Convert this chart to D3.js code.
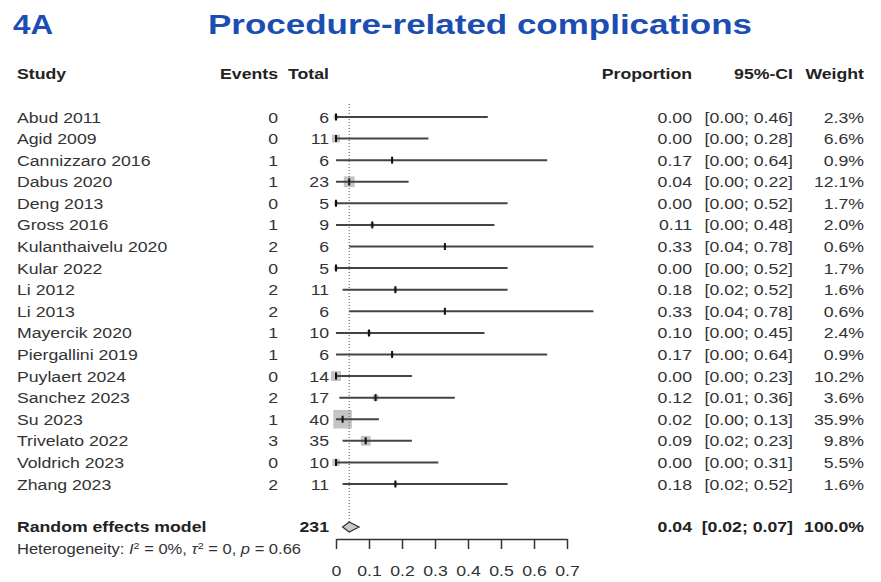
<!DOCTYPE html>
<html>
<head>
<meta charset="utf-8">
<script src="https://cdn.jsdelivr.net/npm/d3@7"></script>
<style>
  body { margin: 0; background: #fff; }
  svg text { font-family: "Liberation Sans", Arial, sans-serif; }
</style>
</head>
<body>
<div id="chart"></div>
<script>
// data
var studies = ["Abud 2011", "Agid 2009", "Cannizzaro 2016", "Dabus 2020", "Deng 2013", "Gross 2016",
    "Kulanthaivelu 2020", "Kular 2022", "Li 2012", "Li 2013", "Mayercik 2020", "Piergallini 2019",
    "Puylaert 2024", "Sanchez 2023", "Su 2023", "Trivelato 2022", "Voldrich 2023", "Zhang 2023"];
var events = [0, 0, 1, 1, 0, 1, 2, 0, 2, 2, 1, 1, 0, 2, 1, 3, 0, 2];
var totals = [6, 11, 6, 23, 5, 9, 6, 5, 11, 6, 10, 6, 14, 17, 40, 35, 10, 11];
var props = [0.00, 0.00, 0.17, 0.04, 0.00, 0.11, 0.33, 0.00, 0.18, 0.33, 0.10, 0.17, 0.00, 0.12, 0.02, 0.09, 0.00, 0.18];
var ciLow = [0.00, 0.00, 0.00, 0.00, 0.00, 0.00, 0.04, 0.00, 0.02, 0.04, 0.00, 0.00, 0.00, 0.01, 0.00, 0.02, 0.00, 0.02];
var ciHigh = [0.46, 0.28, 0.64, 0.22, 0.52, 0.48, 0.78, 0.52, 0.52, 0.78, 0.45, 0.64, 0.23, 0.36, 0.13, 0.23, 0.31, 0.52];
var weights = [2.3, 6.6, 0.9, 12.1, 1.7, 2.0, 0.6, 1.7, 1.6, 0.6, 2.4, 0.9, 10.2, 3.6, 35.9, 9.8, 5.5, 1.6];

var pooled = {label: "Random effects model", total: 231, est: 0.04, lo: 0.02, hi: 0.07, weight: "100.0%"};
var axisTicks = [0, 0.1, 0.2, 0.3, 0.4, 0.5, 0.6, 0.7];

var width = 881, height = 582;
var sx = 1.14; // the text in the picture is a bit wider than Liberation Sans

var svg = d3.select("#chart").append("svg")
    .attr("width", width)
    .attr("height", height);

var x = d3.scaleLinear()
    .domain([0, 0.7])
    .range([336, 567]);

var y = d3.scaleLinear()
    .domain([0, studies.length - 1])
    .range([117, 484]);

var fmt = d3.format(".2f");

// put a text at (px, py) stretched horizontally by sx
function label(sel, px, py, anchor, size, weight, fill, s) {
    return sel.append("text")
        .attr("x", px / sx).attr("y", py)
        .attr("transform", "scale(" + sx + ",1)")
        .attr("text-anchor", anchor)
        .attr("font-size", size)
        .attr("font-weight", weight)
        .attr("fill", fill)
        .text(s);
}

// title
var blue = "#1b4db2";
svg.append("text")
    .attr("x", 13).attr("y", 34)
    .attr("font-size", 27).attr("font-weight", "bold")
    .attr("fill", blue)
    .attr("textLength", 40).attr("lengthAdjust", "spacingAndGlyphs")
    .text("4A");
svg.append("text")
    .attr("x", 208).attr("y", 34)
    .attr("font-size", 27).attr("font-weight", "bold")
    .attr("fill", blue)
    .attr("textLength", 544).attr("lengthAdjust", "spacingAndGlyphs")
    .text("Procedure-related complications");

// column headers
var headY = 79;
var headers = [
    {t: "Study", x: 17, a: "start"},
    {t: "Events", x: 278, a: "end"},
    {t: "Total", x: 329, a: "end"},
    {t: "Proportion", x: 692, a: "end"},
    {t: "95%-CI", x: 793, a: "end"},
    {t: "Weight", x: 864, a: "end"}
];
headers.forEach(function (h) {
    label(svg, h.x, headY, h.a, 15.5, "bold", "#222", h.t);
});

// rows
var txt = "#333";
var rows = svg.selectAll(".row")
    .data(studies)
    .enter().append("g")
    .attr("class", "row")
    .attr("transform", function (d, i) { return "translate(0," + y(i) + ")"; });

rows.each(function (d, i) {
    var g = d3.select(this);
    label(g, 17, 5.5, "start", 15.5, "normal", txt, d);
    label(g, 278, 5.5, "end", 15.5, "normal", txt, events[i]);
    label(g, 329, 5.5, "end", 15.5, "normal", txt, totals[i]);
    label(g, 692, 5.5, "end", 15.5, "normal", txt, fmt(props[i]));
    label(g, 793, 5.5, "end", 15.5, "normal", txt, "[" + fmt(ciLow[i]) + "; " + fmt(ciHigh[i]) + "]");
    label(g, 864, 5.5, "end", 15.5, "normal", txt, weights[i].toFixed(1) + "%");
});

// weight boxes
rows.append("rect")
    .attr("x", function (d, i) { return x(props[i]) - 1.55 * Math.sqrt(weights[i]); })
    .attr("y", function (d, i) { return -1.55 * Math.sqrt(weights[i]); })
    .attr("width", function (d, i) { return 3.1 * Math.sqrt(weights[i]); })
    .attr("height", function (d, i) { return 3.1 * Math.sqrt(weights[i]); })
    .attr("fill", "#c4c4c4");

// CI lines
rows.append("line")
    .attr("x1", function (d, i) { return x(ciLow[i]); })
    .attr("x2", function (d, i) { return x(ciHigh[i]); })
    .attr("y1", 0).attr("y2", 0)
    .attr("stroke", "#444")
    .attr("stroke-width", 2);

// point estimate marks
rows.append("line")
    .attr("x1", function (d, i) { return x(props[i]); })
    .attr("x2", function (d, i) { return x(props[i]); })
    .attr("y1", -3.5).attr("y2", 3.5)
    .attr("stroke", "#111")
    .attr("stroke-width", 2);

// pooled estimate reference line
svg.append("line")
    .attr("x1", x(pooled.est)).attr("x2", x(pooled.est))
    .attr("y1", 104).attr("y2", 522)
    .attr("stroke", "#555")
    .attr("stroke-width", 1)
    .attr("stroke-dasharray", "1,2");

// pooled row
var py = 527;
var diamond = [[x(pooled.lo), py], [x(pooled.est), py - 5], [x(pooled.hi), py], [x(pooled.est), py + 5]];
svg.append("path")
    .attr("d", "M" + diamond.join("L") + "Z")
    .attr("fill", "#c8c8c8")
    .attr("stroke", "#333")
    .attr("stroke-width", 1.2);

var pooledCols = [
    {t: pooled.label, x: 17, a: "start"},
    {t: pooled.total, x: 329, a: "end"},
    {t: fmt(pooled.est), x: 692, a: "end"},
    {t: "[" + fmt(pooled.lo) + "; " + fmt(pooled.hi) + "]", x: 793, a: "end"},
    {t: pooled.weight, x: 864, a: "end"}
];
pooledCols.forEach(function (c) {
    label(svg, c.x, py + 5.5, c.a, 15.5, "bold", "#222", c.t);
});

// heterogeneity line
var het = label(svg, 17, 554, "start", 14.5, "normal", txt, "");
het.append("tspan").text("Heterogeneity: ");
het.append("tspan").attr("font-style", "italic").text("I");
het.append("tspan").attr("font-size", 9.5).attr("dy", -5).text("2");
het.append("tspan").attr("dy", 5).text(" = 0%, ");
het.append("tspan").attr("font-style", "italic").text("\u03c4");
het.append("tspan").attr("font-size", 9.5).attr("dy", -5).text("2");
het.append("tspan").attr("dy", 5).text(" = 0, ");
het.append("tspan").attr("font-style", "italic").text("p");
het.append("tspan").text(" = 0.66");

// x axis
var xAxis = d3.axisBottom(x)
    .tickValues(axisTicks)
    .tickFormat(function (d) { return d === 0 ? "0" : d3.format(".1f")(d); })
    .tickSize(10)
    .tickSizeOuter(0)
    .tickPadding(16);

var ax = svg.append("g")
    .attr("transform", "translate(0,539)")
    .call(xAxis);
ax.select(".domain").attr("stroke", "#333").attr("stroke-width", 1.5);
ax.selectAll(".tick line").attr("stroke", "#333").attr("stroke-width", 1.5);
ax.selectAll(".tick text")
    .attr("font-size", 15.5)
    .attr("fill", txt)
    .attr("transform", "scale(" + sx + ",1)")
    .attr("font-family", "Liberation Sans, Arial, sans-serif");
</script>
</body>
</html>
